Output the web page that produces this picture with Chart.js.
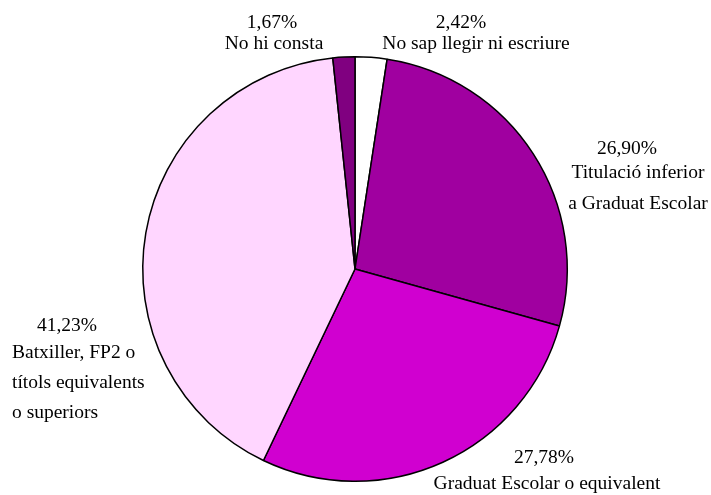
<!DOCTYPE html>
<html>
<head>
<meta charset="utf-8">
<script src="https://cdn.jsdelivr.net/npm/chart.js@4/dist/chart.umd.min.js"></script>
<style>
  body { margin: 0; background: #fff; }
  #grafic { display: block; }
</style>
</head>
<body>
<canvas id="grafic" width="711" height="495"></canvas>
<script>
// dades del gràfic (en ordre horari des de dalt)
var categories = ['No sap llegir ni escriure', 'Titulació inferior a Graduat Escolar', 'Graduat Escolar o equivalent', 'Batxiller, FP2 o títols equivalents o superiors', 'No hi consta']
var valors = [2.42, 26.90, 27.78, 41.23, 1.67]
var colors = ['#ffffff', '#a000a0', '#d000d0', '#ffd6ff', '#800080']

// textos de les etiquetes, línia per línia
var etiquetes = [
    ['2,42%', 'No sap llegir ni escriure'],
    ['26,90%', 'Titulació inferior', 'a Graduat Escolar'],
    ['27,78%', 'Graduat Escolar o equivalent'],
    ['41,23%', 'Batxiller, FP2 o', 'títols equivalents', 'o superiors'],
    ['1,67%', 'No hi consta']
]

// posició de cada línia: [x, y, alineació]
var posEtiquetes = [
    [[461, 23, 'center'], [476, 44, 'center']],
    [[627, 149, 'center'], [638, 173, 'center'], [638, 204, 'center']],
    [[544, 458, 'center'], [547, 484, 'center']],
    [[67, 326, 'center'], [12, 353, 'left'], [12, 383, 'left'], [12, 413, 'left']],
    [[272, 23, 'center'], [274, 44, 'center']]
]

const pluginEtiquetes = {
    id: 'etiquetes',
    afterDraw(chart) {
        const ctx = chart.ctx
        ctx.save()
        ctx.fillStyle = '#000'
        ctx.font = '19.5px "Liberation Serif", "Times New Roman", serif'
        ctx.textBaseline = 'middle'
        etiquetes.forEach((linies, i) => {
            linies.forEach((text, j) => {
                const p = posEtiquetes[i][j]
                ctx.textAlign = p[2]
                ctx.fillText(text, p[0], p[1])
            })
        })
        ctx.restore()
    }
}

var ctx = document.getElementById('grafic').getContext('2d');
var chart = new Chart(ctx, {
    type: 'pie',
    data: {
        labels: categories,
        datasets: [{
            data: valors,
            backgroundColor: colors,
            borderColor: '#000',
            borderWidth: 1.5
        }]
    },
    options: {
        responsive: false,
        animation: false,
        layout: {
            padding: { left: 142, right: 143, top: 56, bottom: 13 }
        },
        plugins: {
            legend: { display: false },
            tooltip: { enabled: false }
        }
    },
    plugins: [pluginEtiquetes]
});
</script>
</body>
</html>
